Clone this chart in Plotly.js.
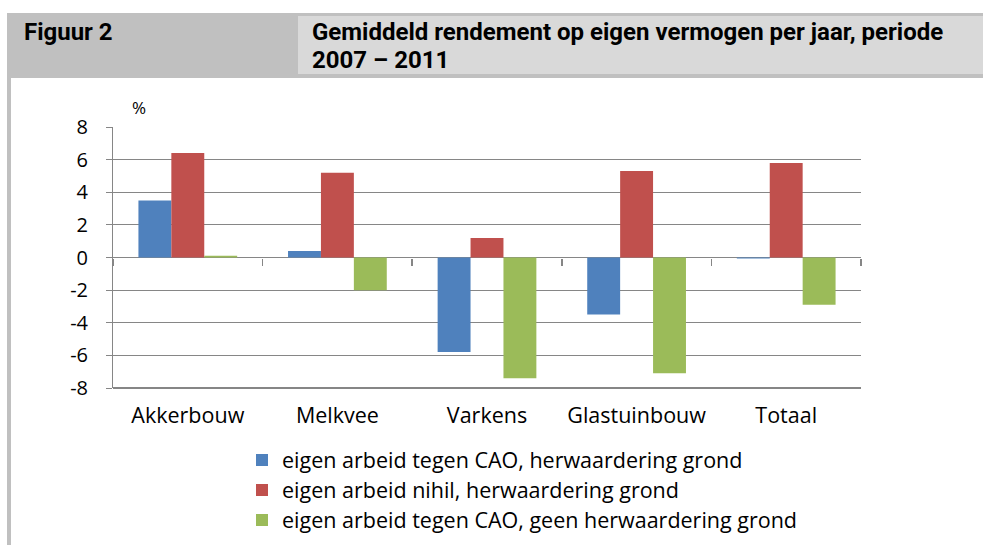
<!DOCTYPE html>
<html>
<head>
<meta charset="utf-8">
<script src="https://cdn.plot.ly/plotly-3.0.1.min.js"></script>
<style>html,body{margin:0;padding:0;background:#fff;}#chart{width:983px;height:545px;}</style>
</head>
<body>
<div id="chart"></div>
<script>
var categories = ['Akkerbouw', 'Melkvee', 'Varkens', 'Glastuinbouw', 'Totaal'];
var seriesNames = [
  'eigen arbeid tegen CAO, herwaardering grond',
  'eigen arbeid nihil, herwaardering grond',
  'eigen arbeid tegen CAO, geen herwaardering grond'
];
var cao_herw = [3.5, 0.4, -5.8, -3.5, -0.06];
var nihil_herw = [6.4, 5.2, 1.2, 5.3, 5.8];
var cao_geen = [0.1, -2.0, -7.4, -7.1, -2.9];
var yTickVals = [-8, -6, -4, -2, 0, 2, 4, 6, 8];
var yTickText = ['-8', '-6', '-4', '-2', '0', '2', '4', '6', '8'];
var colors = ['#4F81BD', '#C0504D', '#9BBB59'];
var figLabel = 'Figuur 2';
var titleLine1 = 'Gemiddeld rendement op eigen vermogen per jaar, periode';
var titleLine2 = '2007 \u2013 2011';
var unitLabel = '%';

var W = 983, H = 545;
var M = {l: 113, r: 122, t: 127, b: 157, autoexpand: false};
var PW = W - M.l - M.r, PH = H - M.t - M.b;
function px(x) { return (x - M.l) / PW; }
function py(y) { return (H - M.b - y) / PH; }

var legendIds = ['legend', 'legend2', 'legend3'];
var legendRowY = [460, 490, 520];
var allSeries = [cao_herw, nihil_herw, cao_geen];
var traces = allSeries.map(function (vals, i) {
  return {
    type: 'bar', x: categories, y: vals, name: seriesNames[i],
    marker: {color: colors[i], line: {width: 0}},
    legend: legendIds[i],
    hoverinfo: 'x+y'
  };
});

var hdrFont = 'Roboto, "Liberation Sans", sans-serif';
var bodyFont = '"Open Sans", "DejaVu Sans", sans-serif';
var layout = {
  width: W, height: H,
  margin: M,
  paper_bgcolor: '#ffffff', plot_bgcolor: 'rgba(0,0,0,0)',
  barmode: 'group', bargap: 0.34, bargroupgap: 0,
  showlegend: true,
  font: {family: bodyFont, color: '#000'},
  xaxis: {
    type: 'category', categoryarray: categories, categoryorder: 'array',
    range: [-0.5, categories.length - 0.5],
    anchor: 'free', position: 0.5,
    showline: false, showgrid: false, zeroline: false,
    ticks: 'outside', tickson: 'boundaries', ticklen: 7, tickwidth: 1.5, tickcolor: '#868686',
    ticklabelstandoff: 143,
    tickfont: {size: 21.5, color: '#000', family: bodyFont},
    fixedrange: true
  },
  yaxis: {
    range: [-8, 8], tickmode: 'array', tickvals: yTickVals, ticktext: yTickText,
    showline: true, linecolor: '#868686', linewidth: 1,
    showgrid: true, gridcolor: '#868686', gridwidth: 1, zeroline: false,
    ticks: 'outside', ticklen: 6, tickcolor: '#868686', tickwidth: 1,
    ticklabelstandoff: 14,
    tickfont: {size: 20, color: '#000', family: bodyFont},
    fixedrange: true
  },
  shapes: [
    {type: 'rect', xref: 'paper', yref: 'paper', x0: px(7), x1: px(983), y0: py(78), y1: py(13),
     fillcolor: '#c0c0c0', line: {width: 0}, layer: 'below'},
    {type: 'rect', xref: 'paper', yref: 'paper', x0: px(298), x1: px(983), y0: py(74), y1: py(16),
     fillcolor: '#d9d9d9', line: {width: 0}, layer: 'below'},
    {type: 'rect', xref: 'paper', yref: 'paper', x0: px(7), x1: px(11), y0: py(545), y1: py(13),
     fillcolor: '#c0c0c0', line: {width: 0}, layer: 'below'},
    {type: 'line', xref: 'paper', yref: 'paper', x0: 0, x1: 1, y0: 0, y1: 0,
     line: {color: '#868686', width: 2}}
  ],
  annotations: [
    {text: figLabel, xref: 'paper', yref: 'paper', x: px(22), y: py(32), xanchor: 'left', yanchor: 'middle',
     showarrow: false, font: {family: hdrFont, size: 24, color: '#000', weight: 'bold'}},
    {text: titleLine1, xref: 'paper', yref: 'paper', x: px(310), y: py(32), xanchor: 'left', yanchor: 'middle',
     showarrow: false, font: {family: hdrFont, size: 24, color: '#000', weight: 'bold'}},
    {text: titleLine2, xref: 'paper', yref: 'paper', x: px(310), y: py(60), xanchor: 'left', yanchor: 'middle',
     showarrow: false, font: {family: hdrFont, size: 24, color: '#000', weight: 'bold'}},
    {text: unitLabel, xref: 'paper', yref: 'paper', x: px(139), y: py(107), xanchor: 'center', yanchor: 'middle',
     showarrow: false, font: {size: 17, color: '#000', family: bodyFont}}
  ]
};
legendIds.forEach(function (id, i) {
  layout[id] = {
    x: px(242), y: py(legendRowY[i]), xanchor: 'left', yanchor: 'middle',
    orientation: 'v', bgcolor: 'rgba(0,0,0,0)',
    font: {size: 21.5, color: '#000', family: bodyFont},
    itemclick: false, itemdoubleclick: false
  };
});
Plotly.newPlot('chart', traces, layout, {displayModeBar: false, staticPlot: true});
</script>
</body>
</html>
